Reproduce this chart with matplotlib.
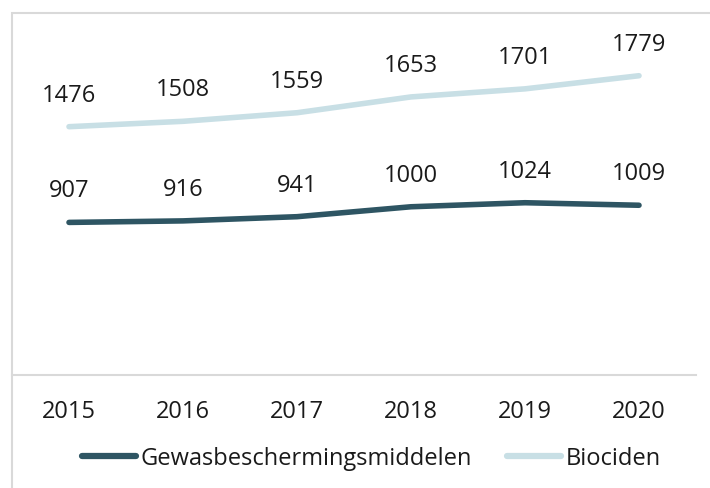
import matplotlib.pyplot as plt
from matplotlib.patches import Rectangle

plt.rcParams['font.family'] = ['Open Sans', 'DejaVu Sans']

years = ['2015', '2016', '2017', '2018', '2019', '2020']
gewas = [907, 916, 941, 1000, 1024, 1009]
biociden = [1476, 1508, 1559, 1653, 1701, 1779]

dark = '#2e5563'
light = '#c8dfe5'
text_color = '#1a1a1a'
grey = '#d9d9d9'

fig = plt.figure(figsize=(7.1, 4.88), dpi=100)
ax = fig.add_axes([0.0169, 0.2316, 0.9634, 0.6894])

x = list(range(len(years)))
ax.plot(x, gewas, color=dark, linewidth=4, solid_capstyle='round',
        label='Gewasbeschermingsmiddelen')
ax.plot(x, biociden, color=light, linewidth=4, solid_capstyle='round',
        label='Biociden')

for i in x:
    ax.annotate(str(gewas[i]), (i, gewas[i]), xytext=(0, 18), textcoords='offset points',
                ha='center', va='baseline', fontsize=17, color=text_color)
    ax.annotate(str(biociden[i]), (i, biociden[i]), xytext=(0, 18), textcoords='offset points',
                ha='center', va='baseline', fontsize=17, color=text_color)

ax.set_xlim(-0.5, len(years) - 0.5)
ax.set_ylim(0, 2000)
ax.set_xticks(x)
ax.set_xticklabels(years, fontsize=17, color=text_color)
ax.set_yticks([])
ax.tick_params(axis='x', length=0, pad=18)

for side in ['left', 'right', 'top']:
    ax.spines[side].set_visible(False)
ax.spines['bottom'].set_color(grey)
ax.spines['bottom'].set_linewidth(1.5)

leg = fig.legend(loc='center', bbox_to_anchor=(0.523, 0.06), ncol=2, frameon=False,
                 fontsize=17, handlelength=2.3, handletextpad=0.2, columnspacing=1.45)
for t in leg.get_texts():
    t.set_color(text_color)
for h in leg.get_lines():
    h.set_linewidth(4.5)
    h.set_solid_capstyle('round')

# outer border of the chart area
fig.patches.append(Rectangle((12 / 710, -0.05), 1.2, 1 - 13 / 488 + 0.05,
                             transform=fig.transFigure, fill=False,
                             edgecolor=grey, linewidth=1.5))

fig.savefig('out.png', dpi=100)
